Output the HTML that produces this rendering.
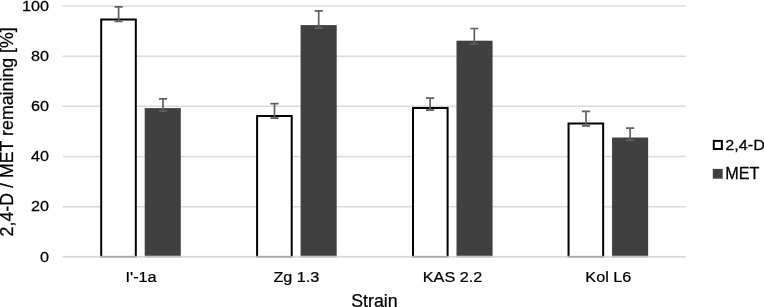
<!DOCTYPE html>
<html lang="en"><head><meta charset="utf-8"><title>2,4-D / MET remaining by strain</title>
<style>
html,body{margin:0;padding:0;background:#fff;}
body{width:764px;height:307px;overflow:hidden;}
svg{display:block;}
text{font-family:"Liberation Sans",Arial,Helvetica,sans-serif;fill:#000;stroke:#000;stroke-width:0.25px;}
.t{font-size:15.3px;}
.h{font-size:17.8px;}.c{font-size:15.4px;}
</style></head><body>
<svg width="764" height="307" viewBox="0 0 764 307">
<rect x="0" y="0" width="764" height="307" fill="#ffffff"/>
<g stroke="#dadada" stroke-width="1.5">
<line x1="62.7" y1="206.71" x2="685.9" y2="206.71"/>
<line x1="62.7" y1="156.52" x2="685.9" y2="156.52"/>
<line x1="62.7" y1="106.33" x2="685.9" y2="106.33"/>
<line x1="62.7" y1="56.14" x2="685.9" y2="56.14"/>
<line x1="62.7" y1="5.95" x2="685.9" y2="5.95"/>
</g>
<g fill="#ffffff" stroke="#000000" stroke-width="2">
<path d="M101.20 255.90V19.40H135.80V255.90"/>
<path d="M257.10 255.90V116.00H291.70V255.90"/>
<path d="M413.00 255.90V108.10H447.60V255.90"/>
<path d="M568.55 255.90V123.50H603.15V255.90"/>
</g>
<g fill="#404040">
<rect x="144.70" y="108.10" width="36.10" height="147.80"/>
<rect x="300.60" y="25.10" width="36.10" height="230.80"/>
<rect x="456.50" y="40.70" width="36.10" height="215.20"/>
<rect x="612.05" y="137.50" width="36.10" height="118.40"/>
</g>
<rect x="62.7" y="255.90" width="623.2" height="1.8" fill="#d8d8d8"/>
<g fill="#a8a8a8">
<rect x="100.20" y="255.90" width="36.6" height="1.8"/>
<rect x="256.10" y="255.90" width="36.6" height="1.8"/>
<rect x="412.00" y="255.90" width="36.6" height="1.8"/>
<rect x="567.55" y="255.90" width="36.6" height="1.8"/>
</g>
<g fill="#c2c2c2">
<rect x="144.70" y="255.90" width="36.1" height="1.8"/>
<rect x="300.60" y="255.90" width="36.1" height="1.8"/>
<rect x="456.50" y="255.90" width="36.1" height="1.8"/>
<rect x="612.05" y="255.90" width="36.1" height="1.8"/>
</g>
<g stroke="#606060" stroke-width="1.7" fill="none">
<path d="M118.6 6.8V21.4M114.5 6.8H122.7M114.5 21.4H122.7"/>
<path d="M163.0 98.9V111.1M158.9 98.9H167.1M158.9 111.1H167.1"/>
<path d="M274.5 103.7V118.1M270.4 103.7H278.6M270.4 118.1H278.6"/>
<path d="M318.7 10.9V28.1M314.6 10.9H322.8M314.6 28.1H322.8"/>
<path d="M430.1 98.1V110.1M426.0 98.1H434.2M426.0 110.1H434.2"/>
<path d="M474.3 28.5V44.0M470.2 28.5H478.4M470.2 44.0H478.4"/>
<path d="M586.0 111.4V125.8M581.9 111.4H590.1M581.9 125.8H590.1"/>
<path d="M630.1 128.1V140.3M626.0 128.1H634.2M626.0 140.3H634.2"/>
</g>
<text class="t" text-anchor="end" transform="translate(49.00 261.60) scale(1.060 1.000)">0</text>
<text class="t" text-anchor="end" transform="translate(49.00 211.41) scale(1.060 1.000)">20</text>
<text class="t" text-anchor="end" transform="translate(49.00 161.22) scale(1.060 1.000)">40</text>
<text class="t" text-anchor="end" transform="translate(49.00 111.03) scale(1.060 1.000)">60</text>
<text class="t" text-anchor="end" transform="translate(49.00 60.84) scale(1.060 1.000)">80</text>
<text class="t" text-anchor="end" transform="translate(49.00 10.65) scale(1.060 1.000)">100</text>
<text class="c" text-anchor="middle" transform="translate(141.10 281.50) scale(1.053 1.000)">I&#39;-1a</text>
<text class="c" text-anchor="middle" transform="translate(296.40 281.50) scale(1.053 1.000)">Zg 1.3</text>
<text class="c" text-anchor="middle" transform="translate(452.50 281.50) scale(1.053 1.000)">KAS 2.2</text>
<text class="c" text-anchor="middle" transform="translate(608.30 281.50) scale(1.053 1.000)">Kol L6</text>
<text class="h" text-anchor="middle" transform="translate(374.40 307.00) scale(1.000 1.000)">Strain</text>
<text class="h" text-anchor="middle" transform="translate(13.00 131.80) rotate(-90) scale(1.000 1.000)">2,4-D / MET remaining [%]</text>
<rect x="713.8" y="140.9" width="8.05" height="8.1" fill="#ffffff" stroke="#000000" stroke-width="2"/>
<text class="t" text-anchor="start" transform="translate(725.30 149.90) scale(1.060 1.000)">2,4-D</text>
<rect x="712.8" y="168.9" width="9.9" height="9.8" fill="#404040"/>
<text class="t" text-anchor="start" transform="translate(725.30 178.90) scale(1.060 1.070)">MET</text>
</svg>
</body></html>
